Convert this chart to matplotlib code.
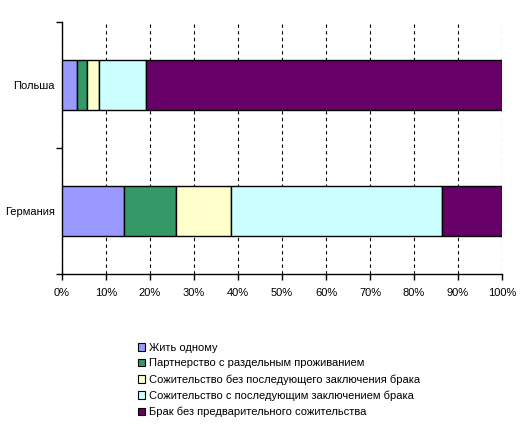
import matplotlib
matplotlib.use('Agg')
import numpy as np
from matplotlib import pyplot as plt
from matplotlib.ticker import MultipleLocator, PercentFormatter

plt.rcParams['font.family'] = ['Liberation Sans', 'DejaVu Sans']

countries = ['Германия', 'Польша']
series = ['Жить одному',
          'Партнерство с раздельным проживанием',
          'Сожительство без последующего заключения брака',
          'Сожительство с последующим заключением брака',
          'Брак без предварительного сожительства']
alone = [14.2, 3.5]
partner = [11.7, 2.1]
cohab_no_marriage = [12.5, 2.7]
cohab_marriage = [47.9, 10.7]
marriage = [13.7, 81.0]
colors = ['#9999FF', '#339966', '#FFFFCC', '#CCFFFF', '#660066']

values = [alone, partner, cohab_no_marriage, cohab_marriage, marriage]

fig = plt.figure(figsize=(5.29, 4.32), dpi=100)
ax = fig.add_axes([62 / 529, 1 - 274 / 432, 440 / 529, 252 / 432])

y = np.arange(len(countries))
left = np.zeros(len(countries))
for name, vals, c in zip(series, values, colors):
    vals = np.array(vals)
    ax.barh(y, vals, left=left, height=0.4, color=c, edgecolor='black',
            linewidth=1.0, label=name, zorder=3)
    left += vals

ax.set_xlim(0, 100)
ax.set_ylim(-0.5, 1.5)
ax.xaxis.set_major_locator(MultipleLocator(10))
ax.xaxis.set_major_formatter(PercentFormatter(decimals=0))
ax.set_yticks(y)
ax.set_yticklabels(countries)
ax.set_yticks([-0.5, 0.5, 1.5], minor=True)
ax.tick_params(axis='y', which='major', length=0, labelsize=8, pad=5)
ax.tick_params(axis='y', which='minor', length=4, width=1, direction='out')
ax.tick_params(axis='x', length=4, width=1, direction='out', labelsize=8, pad=6)
ax.grid(axis='x', color='black', linestyle=(0, (3, 3)), linewidth=0.8, zorder=0)
for s in ['top', 'right']:
    ax.spines[s].set_visible(False)
for s in ['left', 'bottom']:
    ax.spines[s].set_linewidth(1.0)

leg = fig.legend(loc='upper left', bbox_to_anchor=(132 / 529, 1 - 337 / 432),
                 frameon=False, fontsize=8, handlelength=0.7, handleheight=0.7,
                 handletextpad=0.3, labelspacing=0.53, borderpad=0)
for h in leg.legend_handles:
    h.set_linewidth(0.8)

fig.savefig('out.png', dpi=100)
